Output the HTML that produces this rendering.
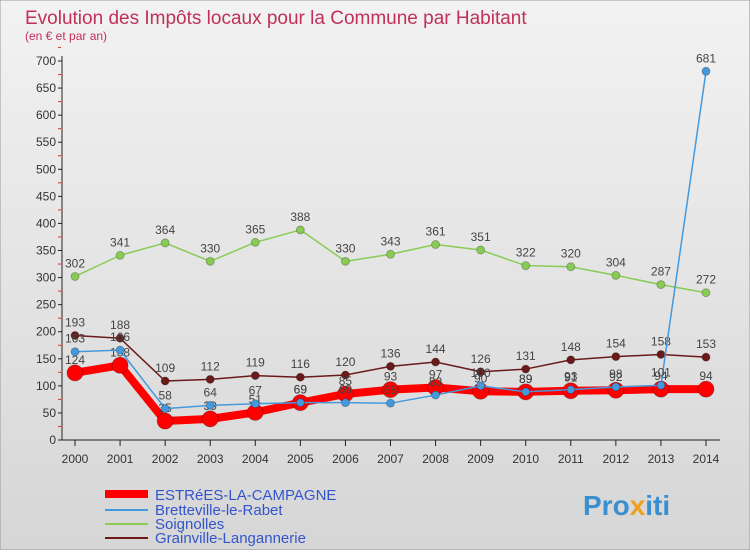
<!DOCTYPE html>
<html><head><meta charset="utf-8"><style>
body{margin:0;width:750px;height:550px;overflow:hidden;font-family:"Liberation Sans",sans-serif}
svg text{font-family:"Liberation Sans",sans-serif}
</style></head><body>
<svg id="c" width="750" height="550">
<defs><linearGradient id="bg" x1="0" y1="0" x2="0" y2="1"><stop offset="0" stop-color="#f2f2f2"/><stop offset="1" stop-color="#d6d6d6"/></linearGradient></defs>
<rect x="0" y="0" width="750" height="550" fill="url(#bg)" stroke="#999"/>
<text x="25" y="24" font-size="19" fill="#c0305a">Evolution des Impôts locaux pour la Commune par Habitant</text>
<text x="25" y="40" font-size="12" fill="#c0305a">(en € et par an)</text>
<g id="axes"></g><g id="series"></g>
<g>
<line x1="105" y1="494" x2="148" y2="494" stroke="#f00" stroke-width="8"/>
<text x="155" y="500" font-size="15" fill="#3355cc">ESTRéES-LA-CAMPAGNE</text>
<line x1="105" y1="510" x2="148" y2="510" stroke="#4499dd" stroke-width="2"/>
<text x="155" y="515" font-size="15" fill="#3355cc">Bretteville-le-Rabet</text>
<line x1="105" y1="524" x2="148" y2="524" stroke="#88cc55" stroke-width="2"/>
<text x="155" y="529" font-size="15" fill="#3355cc">Soignolles</text>
<line x1="105" y1="538" x2="148" y2="538" stroke="#6b1a1a" stroke-width="2"/>
<text x="155" y="543" font-size="15" fill="#3355cc">Grainville-Langannerie</text>
</g>
<text x="583" y="515" font-size="28" font-weight="bold" fill="#3a8fd0">Pro<tspan fill="#f0a020">x</tspan>iti</text>
</svg>
<script>
const years=[2000,2001,2002,2003,2004,2005,2006,2007,2008,2009,2010,2011,2012,2013,2014];
const estrees=[124,138,35,39,51,69,85,93,97,90,89,91,92,94,94];
const bretteville=[163,166,58,64,67,69,69,68,83,100,89,93,98,101,681];
const soignolles=[302,341,364,330,365,388,330,343,361,351,322,320,304,287,272];
const grainville=[193,188,109,112,119,116,120,136,144,126,131,148,154,158,153];
const yTicks=[0,50,100,150,200,250,300,350,400,450,500,550,600,650,700];
const NS="http://www.w3.org/2000/svg";
const X=i=>75+i*(706-75)/14, Y=v=>440-v*(440-61)/700;
function mk(t,a,p){const e=document.createElementNS(NS,t);for(const k in a)e.setAttribute(k,a[k]);p.appendChild(e);return e;}
const ax=document.getElementById('axes'), sg=document.getElementById('series');
const yl=mk('line',{x1:62,y1:56,x2:62,y2:440,stroke:'#222'},ax);


const xl=mk('line',{x1:62,y1:440,x2:720,y2:440,stroke:'#222'},ax);


yTicks.forEach(v=>{
 mk('line',{x1:58,y1:Y(v),x2:62,y2:Y(v),stroke:'#222'},ax);
 mk('line',{x1:58,y1:Y(v+25),x2:61,y2:Y(v+25),stroke:'#e03030'},ax);
 const t=mk('text',{x:56,y:Y(v)+4,'font-size':12,'text-anchor':'end',fill:'#333'},ax);t.textContent=v;
 
 
});
years.forEach((y,i)=>{
 mk('line',{x1:X(i),y1:440,x2:X(i),y2:446,stroke:'#222'},ax);
 const t=mk('text',{x:X(i),y:463,'font-size':12,'text-anchor':'middle',fill:'#333'},ax);t.textContent=y;
 
 
});
function series(vals,color,w,r,name){
 const g=mk('g',{},sg);
 
 
 mk('polyline',{points:vals.map((v,i)=>X(i)+','+Y(v)).join(' '),fill:'none',stroke:color,'stroke-width':w,'stroke-linejoin':'round'},g);
 vals.forEach((v,i)=>{
  const c=mk('circle',{cx:X(i),cy:Y(v),r:r,fill:color,stroke:'rgba(0,0,0,0.25)'},g);
  
  
  const t=mk('text',{x:X(i),y:Y(v)-9,'font-size':12,'text-anchor':'middle',fill:'#444'},g);t.textContent=v;
  
  
 });
}
series(soignolles,'#88cc55',1.5,4,'soignolles');
series(grainville,'#6b1a1a',1.5,4,'grainville');
series(estrees,'#ff0000',8,8,'estrees');
series(bretteville,'#4499dd',1.5,4,'bretteville');
</script>
</body></html>
